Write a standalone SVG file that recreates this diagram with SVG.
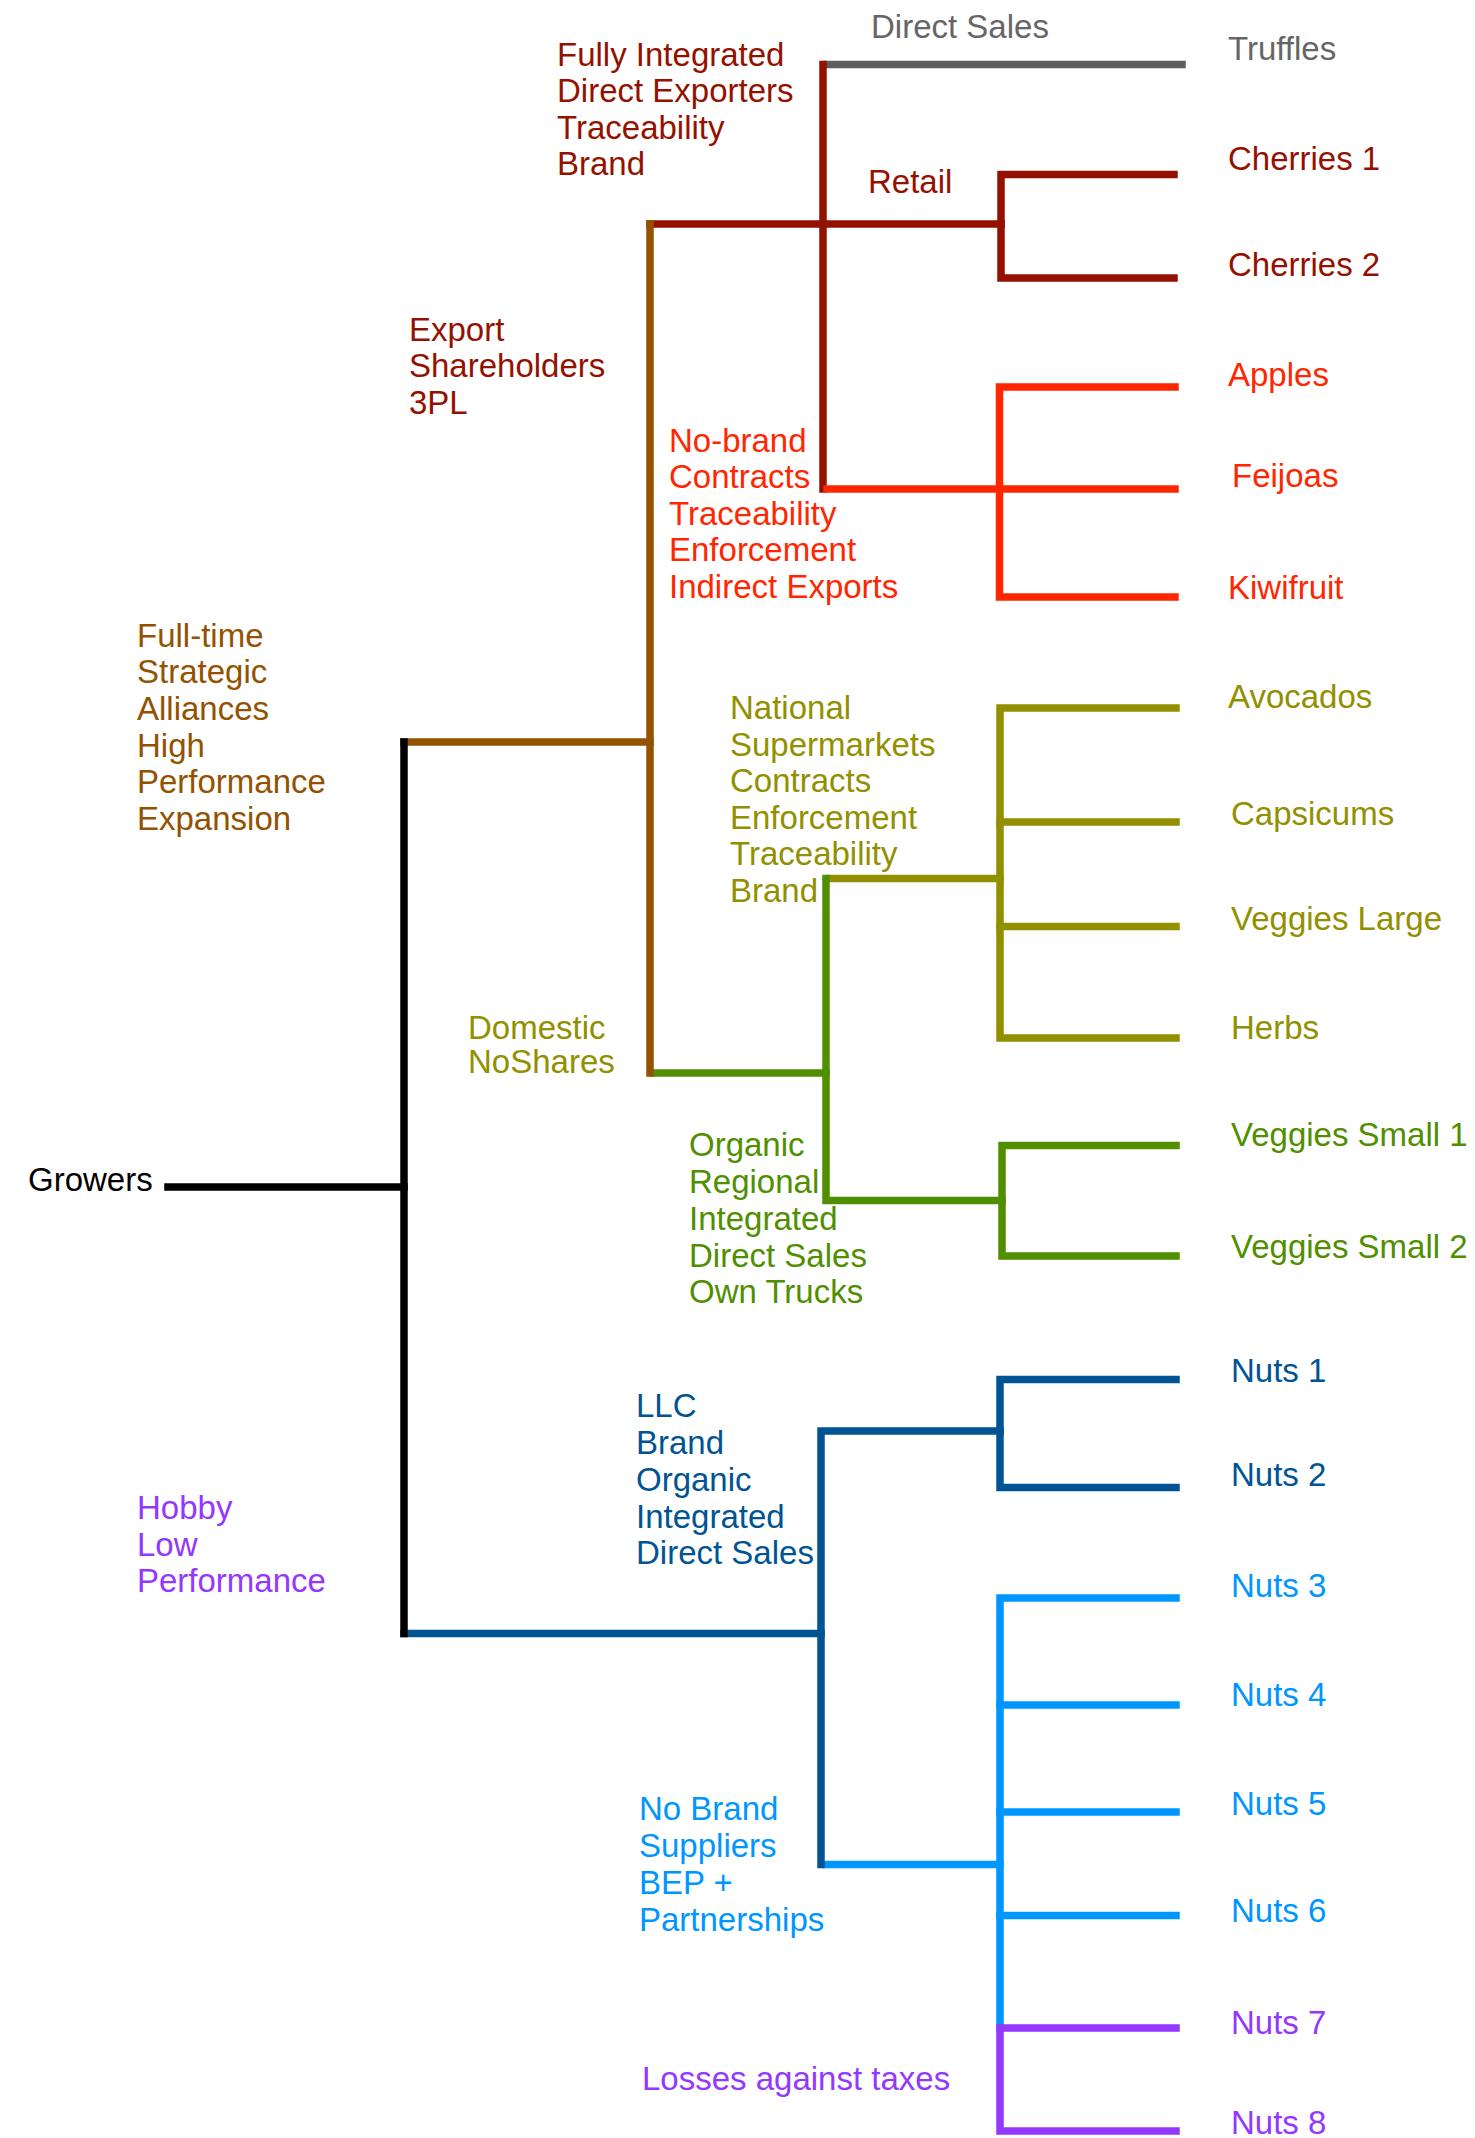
<svg xmlns="http://www.w3.org/2000/svg" width="1475" height="2138" viewBox="0 0 1475 2138">
  <style>
    text { font-family: "Liberation Sans", Arial, Helvetica, sans-serif; font-size: 33px; }
    .ln { fill: none; stroke-width: 7.5; stroke-linecap: square; }
    .k { stroke: #000000; } .tk { fill: #000000; }
    .br { stroke: #945200; } .tbr { fill: #945200; }
    .dr { stroke: #941100; } .tdr { fill: #941100; }
    .gy { stroke: #5E5E5E; } .tgy { fill: #666666; }
    .rd { stroke: #FF2600; } .trd { fill: #FF2600; }
    .ol { stroke: #929000; } .tol { fill: #929000; }
    .gn { stroke: #4F8F00; } .tgn { fill: #4F8F00; }
    .db { stroke: #005493; } .tdb { fill: #005493; }
    .lb { stroke: #0096FF; } .tlb { fill: #0096FF; }
    .pu { stroke: #9437FF; } .tpu { fill: #9437FF; }
  </style>
  <rect width="1475" height="2138" fill="#ffffff"/>

  <!-- tree connectors -->
  <g id="connectors">
    <!-- full-time branch -->
    <path class="ln br" d="M404,742 H650"/>
    <!-- export branch -->
    <path class="ln dr" d="M650,224 H1001"/>
    <path class="ln gy" d="M827,64.5 H1182"/>
    <path class="ln dr" d="M823,64.5 V489"/>
    <path class="ln dr" d="M1174,174.5 H1001 V278 H1174"/>
    <path class="ln rd" d="M827,489 H1175"/>
    <path class="ln rd" d="M1175,387 H999.5 V597 H1175"/>
    <!-- domestic branch -->
    <path class="ln ol" d="M830,878.5 H1000"/>
    <path class="ln ol" d="M1176,708 H1000 V1038 H1176"/>
    <path class="ln ol" d="M1000,822 H1176 M1000,926.5 H1176"/>
    <path class="ln gn" d="M654,1073 H826 V1200.5 H1002"/>
    <path class="ln gn" d="M826,1073 V878.5"/>
    <path class="ln gn" d="M1176,1145.5 H1002 V1256 H1176"/>
    <path class="ln br" d="M650,224 V1073"/>
    <!-- hobby branch -->
    <path class="ln lb" d="M825,1864.5 H1000"/>
    <path class="ln lb" d="M1000,2028 V1598 H1176"/>
    <path class="ln lb" d="M1000,1705 H1176 M1000,1812 H1176 M1000,1915.5 H1176"/>
    <path class="ln db" d="M404,1633.5 H821"/>
    <path class="ln db" d="M821,1864.5 V1431 H1000"/>
    <path class="ln db" d="M1176,1379.5 H1000 V1487.5 H1176"/>
    <path class="ln pu" d="M1176,2028 H1000 V2131 H1176"/>
    <!-- root -->
    <path class="ln k" d="M168,1187 H404"/>
    <path class="ln k" d="M404,742 V1633.5"/>
  </g>

  <g id="growers"><text class="tk" x="28" y="1191">Growers</text></g>

  <g id="fulltime">
    <text class="tbr" x="137" y="647">Full-time</text>
    <text class="tbr" x="137" y="683">Strategic</text>
    <text class="tbr" x="137" y="720">Alliances</text>
    <text class="tbr" x="137" y="757">High</text>
    <text class="tbr" x="137" y="793">Performance</text>
    <text class="tbr" x="137" y="830">Expansion</text>
  </g>

  <g id="hobby">
    <text class="tpu" x="137" y="1519">Hobby</text>
    <text class="tpu" x="137" y="1556">Low</text>
    <text class="tpu" x="137" y="1592">Performance</text>
  </g>

  <g id="export">
    <text class="tdr" x="409" y="341">Export</text>
    <text class="tdr" x="409" y="377">Shareholders</text>
    <text class="tdr" x="409" y="414">3PL</text>
  </g>

  <g id="domestic">
    <text class="tol" x="468" y="1039">Domestic</text>
    <text class="tol" x="468" y="1073">NoShares</text>
  </g>

  <g id="fully-integrated">
    <text class="tdr" x="557" y="66">Fully Integrated</text>
    <text class="tdr" x="557" y="102">Direct Exporters</text>
    <text class="tdr" x="557" y="139">Traceability</text>
    <text class="tdr" x="557" y="175">Brand</text>
  </g>

  <g id="no-brand">
    <text class="trd" x="669" y="452">No-brand</text>
    <text class="trd" x="669" y="488">Contracts</text>
    <text class="trd" x="669" y="525">Traceability</text>
    <text class="trd" x="669" y="561">Enforcement</text>
    <text class="trd" x="669" y="598">Indirect Exports</text>
  </g>

  <g id="direct-sales"><text class="tgy" x="871" y="38">Direct Sales</text></g>
  <g id="retail"><text class="tdr" x="868" y="193">Retail</text></g>

  <g id="national">
    <text class="tol" x="730" y="719">National</text>
    <text class="tol" x="730" y="756">Supermarkets</text>
    <text class="tol" x="730" y="792">Contracts</text>
    <text class="tol" x="730" y="829">Enforcement</text>
    <text class="tol" x="730" y="865">Traceability</text>
    <text class="tol" x="730" y="902">Brand</text>
  </g>

  <g id="organic">
    <text class="tgn" x="689" y="1156">Organic</text>
    <text class="tgn" x="689" y="1193">Regional</text>
    <text class="tgn" x="689" y="1230">Integrated</text>
    <text class="tgn" x="689" y="1267">Direct Sales</text>
    <text class="tgn" x="689" y="1303">Own Trucks</text>
  </g>

  <g id="llc">
    <text class="tdb" x="636" y="1417">LLC</text>
    <text class="tdb" x="636" y="1454">Brand</text>
    <text class="tdb" x="636" y="1491">Organic</text>
    <text class="tdb" x="636" y="1528">Integrated</text>
    <text class="tdb" x="636" y="1564">Direct Sales</text>
  </g>

  <g id="no-brand-suppliers">
    <text class="tlb" x="639" y="1820">No Brand</text>
    <text class="tlb" x="639" y="1857">Suppliers</text>
    <text class="tlb" x="639" y="1894">BEP +</text>
    <text class="tlb" x="639" y="1931">Partnerships</text>
  </g>

  <g id="losses"><text class="tpu" x="642" y="2090">Losses against taxes</text></g>

  <g id="truffles"><text class="tgy" x="1228" y="60">Truffles</text></g>
  <g id="cherries-1"><text class="tdr" x="1228" y="170">Cherries 1</text></g>
  <g id="cherries-2"><text class="tdr" x="1228" y="276">Cherries 2</text></g>
  <g id="apples"><text class="trd" x="1228" y="386">Apples</text></g>
  <g id="feijoas"><text class="trd" x="1232" y="487">Feijoas</text></g>
  <g id="kiwifruit"><text class="trd" x="1228" y="599">Kiwifruit</text></g>
  <g id="avocados"><text class="tol" x="1228" y="708">Avocados</text></g>
  <g id="capsicums"><text class="tol" x="1231" y="825">Capsicums</text></g>
  <g id="veggies-large"><text class="tol" x="1231" y="930">Veggies Large</text></g>
  <g id="herbs"><text class="tol" x="1231" y="1039">Herbs</text></g>
  <g id="veggies-small-1"><text class="tgn" x="1231" y="1146">Veggies Small 1</text></g>
  <g id="veggies-small-2"><text class="tgn" x="1231" y="1258">Veggies Small 2</text></g>
  <g id="nuts-1"><text class="tdb" x="1231" y="1382">Nuts 1</text></g>
  <g id="nuts-2"><text class="tdb" x="1231" y="1486">Nuts 2</text></g>
  <g id="nuts-3"><text class="tlb" x="1231" y="1597">Nuts 3</text></g>
  <g id="nuts-4"><text class="tlb" x="1231" y="1706">Nuts 4</text></g>
  <g id="nuts-5"><text class="tlb" x="1231" y="1815">Nuts 5</text></g>
  <g id="nuts-6"><text class="tlb" x="1231" y="1922">Nuts 6</text></g>
  <g id="nuts-7"><text class="tpu" x="1231" y="2034">Nuts 7</text></g>
  <g id="nuts-8"><text class="tpu" x="1231" y="2134">Nuts 8</text></g>
</svg>
